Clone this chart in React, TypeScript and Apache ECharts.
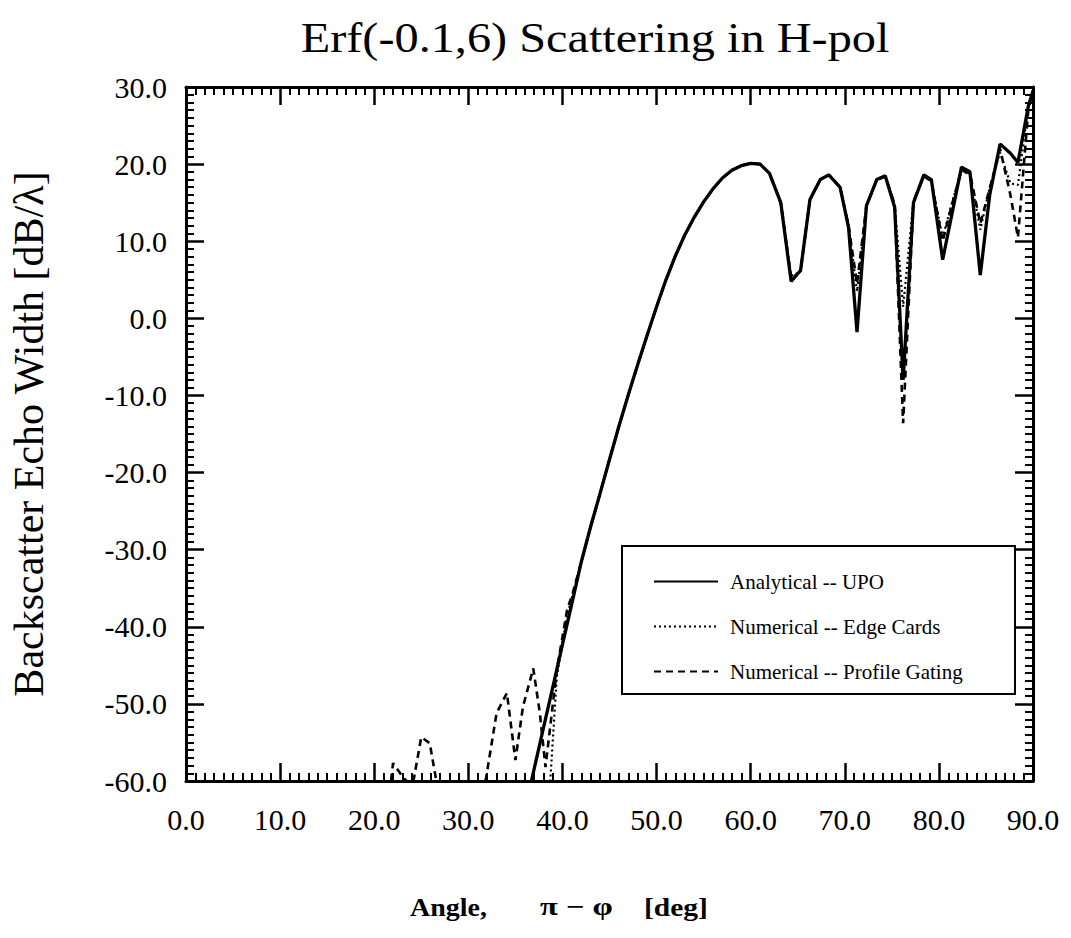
import React, { useEffect, useRef } from 'react';
import * as echarts from 'echarts';

const titleText = 'Erf(-0.1,6) Scattering in H-pol';
const xAxisTitleParts = ['Angle,', 'π − φ', '[deg]'];
const yAxisTitle = 'Backscatter Echo Width [dB/λ]';
const seriesNames = ['Analytical -- UPO', 'Numerical -- Edge Cards', 'Numerical -- Profile Gating'];

const analyticalAngles = [36, 37, 38, 39, 40, 41, 42, 43, 44, 45, 46, 47, 48, 49, 50, 51, 52, 53, 54, 55, 56, 57, 58, 59, 60, 61, 62,
  63.2, 64.3, 65.3, 66.3, 67.4, 68.3, 69.5, 70.4, 71.3, 72.3, 73.4, 74.3, 75.3, 76.2, 77.3, 78.4, 79.2, 80.4, 81.4, 82.4, 83.3, 84.4, 85.4, 86.5, 87.6, 88.4, 89.5, 90];
const analyticalValues = [-63.8, -58.4, -53.0, -47.7, -42.3, -37.0, -31.6, -27.0, -22.7, -18.3, -14.0, -9.9, -6.0, -2.2, 1.5, 5.0, 8.1, 10.8, 13.1, 15.1, 16.8, 18.2, 19.2, 19.8, 20.1, 20.0, 18.8,
  15.0, 4.8, 6.2, 15.4, 18.0, 18.6, 17.0, 11.8, -1.8, 14.6, 18.0, 18.5, 14.4, -8.0, 15.0, 18.6, 18.0, 7.6, 13.6, 19.6, 19.0, 5.6, 16.0, 22.6, 21.4, 20.2, 27.5, 29.5];

const edgeCardAngles = [38.6, 39.4, 40.5, 41.1, 42, 43, 44, 45, 46, 47, 48, 49, 50, 51, 52, 53, 54, 55, 56, 57, 58, 59, 60, 61, 62,
  63.2, 64.3, 65.3, 66.3, 67.4, 68.3, 69.5, 70.4, 71.3, 72.3, 73.4, 74.3, 75.3, 76.2, 77.3, 78.4, 79.2, 80.4, 81.4, 82.4, 83.3, 84.4, 85.4, 86.5, 87.6, 88.4, 89.5, 90];
const edgeCardValues = [-62.0, -46.5, -38.5, -35.8, -31.6, -27.0, -22.7, -18.3, -14.0, -9.9, -6.0, -2.2, 1.5, 5.0, 8.1, 10.8, 13.1, 15.1, 16.8, 18.2, 19.2, 19.8, 20.1, 20.0, 18.8,
  15.0, 5.5, 6.0, 15.4, 18.0, 18.6, 17.0, 12.0, 3.5, 14.6, 18.0, 18.3, 14.8, 1.5, 15.2, 18.4, 17.8, 10.5, 15.0, 19.2, 18.6, 11.5, 17.0, 21.5, 17.5, 17.3, 27.5, 29.5];

const gatingAngles = [21.5, 22.0, 23.1, 23.8, 24.2, 25.0, 25.9, 26.6, 27.2, 31.3, 31.9, 33.0, 34.1, 35.0, 35.8, 36.9, 37.6, 38.2, 39.4, 40.5, 41.1, 42, 43, 44, 45, 46, 47, 48, 49, 50, 51, 52, 53, 54, 55, 56, 57, 58, 59, 60, 61, 62,
  63.2, 64.3, 65.3, 66.3, 67.4, 68.3, 69.5, 70.4, 71.3, 72.3, 73.4, 74.3, 75.3, 76.2, 77.3, 78.4, 79.2, 80.4, 81.4, 82.4, 83.3, 84.4, 85.4, 86.5, 87.6, 88.4, 89.5, 90];
const gatingValues = [-63.0, -57.7, -59.6, -60.4, -59.8, -54.3, -55.1, -60.0, -63.0, -63.0, -59.5, -51.2, -48.6, -57.3, -50.4, -45.4, -51.2, -58.2, -45.6, -37.8, -35.6, -31.6, -27.0, -22.7, -18.3, -14.0, -9.9, -6.0, -2.2, 1.5, 5.0, 8.1, 10.8, 13.1, 15.1, 16.8, 18.2, 19.2, 19.8, 20.1, 20.0, 18.8,
  15.0, 5.2, 6.1, 15.4, 18.0, 18.6, 17.0, 12.0, 4.5, 14.6, 18.0, 18.4, 14.8, -13.6, 15.2, 18.4, 17.8, 10.0, 14.8, 19.2, 18.8, 12.3, 16.8, 22.0, 16.0, 10.5, 27.0, 29.5];

const FONT = '"Liberation Serif", "Times New Roman", serif';

const zip = (xs: number[], ys: number[]) => xs.map((x, i) => [x, ys[i]]);

const tickStyle = {
  axisLine: { show: true, onZero: false, lineStyle: { color: '#000', width: 3 } },
  axisTick: { show: true, inside: true, length: 18, lineStyle: { color: '#000', width: 2.5 } },
  minorTick: { show: true, splitNumber: 10, length: 8, lineStyle: { color: '#000', width: 2 } },
  splitLine: { show: false },
  minorSplitLine: { show: false },
};

export default function App() {
  const ref = useRef<HTMLDivElement>(null);
  useEffect(() => {
    if (!ref.current) return;
    const chart = echarts.init(ref.current, null, { renderer: 'svg' });
    const labelStyle = { fontFamily: FONT, fontSize: 30, color: '#000' };
    chart.setOption({
      animation: false,
      backgroundColor: '#fff',
      grid: { left: 186, right: 38, top: 87, bottom: 157, containLabel: false, outerBoundsMode: 'none' },
      xAxis: [
        {
          type: 'value', min: 0, max: 90, interval: 10, position: 'bottom', ...tickStyle,
          axisLabel: { ...labelStyle, margin: 23, formatter: (v: number) => v.toFixed(1) },
        },
        {
          type: 'value', min: 0, max: 90, interval: 10, position: 'top', ...tickStyle,
          axisLabel: { show: false },
        },
      ],
      yAxis: [
        {
          type: 'value', min: -60, max: 30, interval: 10, position: 'left', ...tickStyle,
          axisLabel: { ...labelStyle, margin: 19, formatter: (v: number) => v.toFixed(1) },
          name: yAxisTitle, nameLocation: 'middle', nameGap: 136,
          nameTextStyle: { fontFamily: FONT, fontSize: 42, color: '#000' },
        },
        {
          type: 'value', min: -60, max: 30, interval: 10, position: 'right', ...tickStyle,
          axisLabel: { show: false },
        },
      ],
      legend: {
        data: seriesNames,
        orient: 'vertical',
        left: 648, top: 566,
        itemWidth: 64, itemHeight: 22, itemGap: 24,
        z: 10,
        selectedMode: false,
        itemStyle: { opacity: 0, color: 'rgba(0,0,0,0)', borderWidth: 0 },
        textStyle: { fontFamily: FONT, fontSize: 21, color: '#000', padding: [0, 0, 0, 7] },
      },
      graphic: [
        {
          type: 'text', x: 595, y: 38, z: 10, scaleX: 1.15, originX: 0, originY: 0,
          style: { text: titleText, font: `42px ${FONT}`, fill: '#000', align: 'center', verticalAlign: 'middle' },
        },
        {
          type: 'text', x: 410, y: 908, z: 10, scaleX: 1.12,
          style: { text: xAxisTitleParts[0], font: `bold 25px ${FONT}`, fill: '#000', align: 'left', verticalAlign: 'middle' },
        },
        {
          type: 'text', x: 540, y: 906, z: 10, scaleX: 1.3,
          style: { text: xAxisTitleParts[1], font: `bold 25px ${FONT}`, fill: '#000', align: 'left', verticalAlign: 'middle' },
        },
        {
          type: 'text', x: 644, y: 908, z: 10, scaleX: 1.18,
          style: { text: xAxisTitleParts[2], font: `bold 25px ${FONT}`, fill: '#000', align: 'left', verticalAlign: 'middle' },
        },
        {
          type: 'rect', z: 5,
          shape: { x: 622, y: 546, width: 393, height: 148 },
          style: { fill: '#fff', stroke: '#000', lineWidth: 2 },
        },
      ],
      series: [
        {
          name: seriesNames[0], type: 'line', symbol: 'none', clip: true, z: 3,
          data: zip(analyticalAngles, analyticalValues),
          lineStyle: { color: '#000', width: 3.3, type: 'solid' },
          itemStyle: { color: '#000' },
        },
        {
          name: seriesNames[1], type: 'line', symbol: 'none', clip: true, z: 2,
          data: zip(edgeCardAngles, edgeCardValues),
          lineStyle: { color: '#000', width: 2.2, type: [2, 3] },
          itemStyle: { color: '#000' },
        },
        {
          name: seriesNames[2], type: 'line', symbol: 'none', clip: true, z: 2,
          data: zip(gatingAngles, gatingValues),
          lineStyle: { color: '#000', width: 2.6, type: [7, 5] },
          itemStyle: { color: '#000' },
        },
      ],
    });
    return () => chart.dispose();
  }, []);
  return <div ref={ref} style={{ position: 'fixed', left: 0, top: 0, width: 1071, height: 938 }} />;
}
